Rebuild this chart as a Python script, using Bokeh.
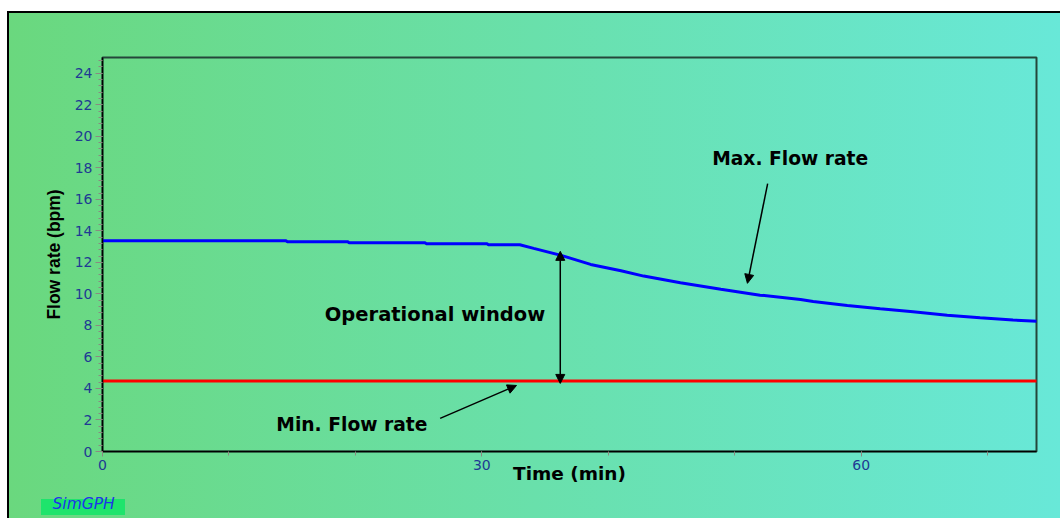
from bokeh.plotting import figure
from bokeh.models import Range1d, SingleIntervalTicker, Label, Arrow, NormalHead, Title
from bokeh.embed import file_html
from bokeh.resources import INLINE

# Maximum allowable pump rate (bpm) over the job time (min)
time_min = [0.0, 14.5, 14.6, 19.4, 19.5, 25.5, 25.6, 30.4, 30.5, 33.0,
            34.1, 36.2, 38.6, 41.0, 42.8, 45.7, 48.9, 52.0, 55.2, 56.2,
            58.9, 61.5, 64.1, 66.8, 69.4, 72.0, 73.9]
max_rate = [13.38, 13.38, 13.31, 13.31, 13.25, 13.25, 13.19, 13.19, 13.12, 13.12,
            12.89, 12.46, 11.87, 11.47, 11.13, 10.71, 10.29, 9.92, 9.65, 9.52,
            9.27, 9.06, 8.87, 8.65, 8.49, 8.34, 8.26]

# Minimum pump rate, constant over the whole job
min_time = [0.0, 73.9]
min_rate = [4.48, 4.48]

x_end = 73.86
y_end = 25

TEXT_FONT = "DejaVu Sans"
TICK_COLOR = "#1f3a93"

p = figure(width=1060, height=518, output_backend="svg", toolbar_location=None,
           x_range=Range1d(0, x_end), y_range=Range1d(0, y_end),
           min_border_left=102, min_border_right=24,
           min_border_top=57, min_border_bottom=67)

p.border_fill_alpha = 0
p.background_fill_alpha = 0
p.styles = {
    "background": (
        "linear-gradient(#000, #000) 7px 11px / 100% 2px no-repeat, "
        "linear-gradient(#000, #000) 7px 11px / 2px 100% no-repeat, "
        "linear-gradient(#1ee46c, #1ee46c) 41px 499px / 84px 16px no-repeat, "
        "linear-gradient(to right, #6ad87e, #68e8d8) 9px 13px / "
        "calc(100% - 9px) calc(100% - 13px) no-repeat, #ffffff"
    )
}
p.outline_line_color = "#24463a"
p.outline_line_width = 2
p.xgrid.visible = False
p.ygrid.visible = False

# Axes
p.xaxis.ticker = SingleIntervalTicker(interval=30, num_minor_ticks=3)
p.yaxis.ticker = SingleIntervalTicker(interval=2, num_minor_ticks=5)
for ax in (p.xaxis[0], p.yaxis[0]):
    ax.axis_line_color = "black"
    ax.axis_line_width = 1.5
    ax.major_tick_line_color = "#8a8a80"
    ax.minor_tick_line_color = "#8a8a80"
    ax.major_tick_in = 0
    ax.minor_tick_in = 0
    ax.major_label_text_font = TEXT_FONT
    ax.major_label_text_font_size = "14px"
    ax.major_label_text_color = TICK_COLOR
    ax.axis_label_text_color = "black"
    ax.axis_label_text_font_style = "bold"

p.xaxis.major_tick_out = 5
p.xaxis.minor_tick_out = 4
p.xaxis.major_label_standoff = 3
p.xaxis.axis_label = "Time (min)"
p.xaxis.axis_label_text_font = TEXT_FONT
p.xaxis.axis_label_text_font_size = "18.5px"
p.xaxis.axis_label_standoff = -10

p.yaxis.major_tick_out = 7
p.yaxis.minor_tick_out = 4
p.yaxis.major_label_standoff = 3
p.yaxis.axis_label = "Flow rate (bpm)"
p.yaxis.axis_label_text_font = "Liberation Sans"
p.yaxis.axis_label_text_font_size = "17.5px"
p.yaxis.axis_label_standoff = 8

# Rate limits
p.line(time_min, max_rate, line_color="#0000ff", line_width=3)
p.line(min_time, min_rate, line_color="#ff0000", line_width=3)

# Callouts
def callout(text, x, y, size="18.7px"):
    p.add_layout(Label(x=x, y=y, text=text, text_font=TEXT_FONT,
                       text_font_size=size, text_font_style="bold",
                       text_color="black", text_align="center",
                       text_baseline="alphabetic"))

def pointer(x0, y0, x1, y1, both=False):
    head = dict(size=9, fill_color="black", line_color="black", line_width=1)
    p.add_layout(Arrow(x_start=x0, y_start=y0, x_end=x1, y_end=y1,
                       line_color="black", line_width=1.5,
                       end=NormalHead(**head),
                       start=NormalHead(**head) if both else None))

callout("Max. Flow rate", 54.38, 18.62)
pointer(52.6, 17.0, 51.0, 10.67)

callout("Operational window", 26.29, 8.68, size="19.5px")
pointer(36.2, 4.32, 36.2, 12.70, both=True)

callout("Min. Flow rate", 19.72, 1.74)
pointer(26.7, 2.1, 32.74, 4.19)

# Software badge in the lower-left corner
badge = Title(text="SimGPH", align="left", offset=-50, standoff=12,
              text_font=TEXT_FONT, text_font_size="15.5px",
              text_line_height=0.7,
              text_font_style="italic", text_color="#1f35e8")
p.add_layout(badge, "below")

open("out.html", "w").write(file_html(p, INLINE))
